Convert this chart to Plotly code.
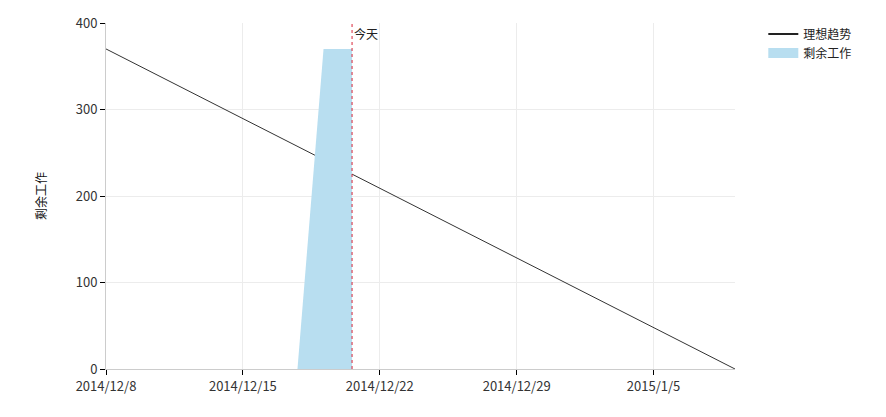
import plotly.graph_objects as go

# Ideal trend
ideal_dates = ["2014-12-08", "2015-01-09 04:00"]
ideal_values = [370, 0]

# Remaining work
remain_dates = ["2014-12-17 19:00", "2014-12-19 03:00", "2014-12-20 14:00", "2014-12-20 14:00"]
remain_values = [0, 370, 370, 0]

today = "2014-12-20 14:00"
tick_vals = ["2014-12-08", "2014-12-15", "2014-12-22", "2014-12-29", "2015-01-05"]
tick_text = ["2014/12/8", "2014/12/15", "2014/12/22", "2014/12/29", "2015/1/5"]

font = "Noto Sans CJK SC, Noto Sans, sans-serif"

fig = go.Figure()
fig.add_trace(go.Scatter(x=ideal_dates, y=ideal_values, mode="lines", name="理想趋势",
                         line=dict(color="#333333", width=1), showlegend=False))
fig.add_trace(go.Scatter(x=remain_dates, y=remain_values, mode="lines", name="剩余工作",
                         fill="toself", fillcolor="rgb(184,222,240)",
                         line=dict(color="rgba(0,0,0,0)", width=0), showlegend=False))
# legend entries
fig.add_trace(go.Scatter(x=[None], y=[None], mode="lines", name="理想趋势",
                         line=dict(color="#222222", width=2)))
fig.add_trace(go.Scatter(x=[None], y=[None], mode="lines", name="剩余工作",
                         line=dict(color="rgb(184,222,240)", width=10)))

fig.add_shape(type="line", x0=today, x1=today, y0=0, y1=1, yref="paper",
              line=dict(color="#d9273a", width=1, dash="dot"))
fig.add_annotation(x=today, y=1, yref="paper", text="今天", showarrow=False,
                   xanchor="left", yanchor="top", xshift=0, yshift=0,
                   font=dict(size=12, color="#222"))

fig.update_layout(
    width=878, height=409,
    margin=dict(l=98, r=151, t=15, b=48, autoexpand=False),
    paper_bgcolor="white", plot_bgcolor="white",
    font=dict(family=font, size=12, color="#333"),
    legend=dict(x=1.045, y=1.01, xanchor="left", yanchor="top",
                font=dict(size=12, color="#222"), tracegroupgap=0,
                itemwidth=30, bgcolor="rgba(0,0,0,0)"),
    showlegend=True,
)
fig.update_xaxes(type="date", range=["2014-12-08", "2015-01-09 04:00"],
                 tickvals=tick_vals, ticktext=tick_text, automargin=False,
                 tickfont=dict(size=13),
                 showgrid=True, gridcolor="#ececec", gridwidth=1,
                 showline=True, linecolor="#cccccc", linewidth=1,
                 ticks="outside", ticklen=5, tickcolor="#000", zeroline=False)
fig.update_yaxes(range=[0, 400], tickvals=[0, 100, 200, 300, 400], automargin=False,
                 tickfont=dict(size=13),
                 showgrid=True, gridcolor="#ececec", gridwidth=1,
                 showline=True, linecolor="#cccccc", linewidth=1,
                 ticks="outside", ticklen=5, tickcolor="#000", zeroline=False,
                 title=dict(text="剩余工作", font=dict(size=12, color="#111"), standoff=26))

fig.write_html("out.html")
